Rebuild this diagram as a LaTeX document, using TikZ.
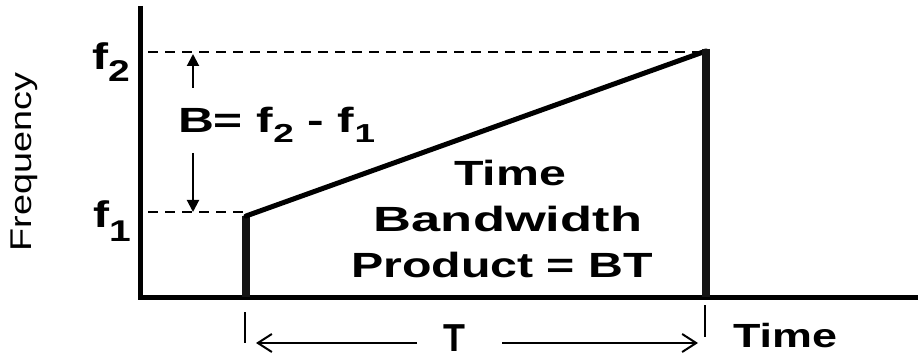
\documentclass[tikz,border=0pt]{standalone}
\usepackage{fontspec}
\setmainfont{Liberation Sans}
\usetikzlibrary{arrows.meta}
\newcommand{\sx}[2]{\scalebox{#1}[1]{#2}}
\newcommand{\fs}[1]{\fontsize{#1}{#1}\selectfont}
\begin{document}
\begin{tikzpicture}[x=1pt,y=-1pt,
  lbl/.style={inner sep=0pt,outer sep=0pt,font=\bfseries},
  axisline/.style={line width=5pt,line join=miter},
  edge/.style={line width=7.5pt,color=black!92},
  slope/.style={line width=5pt,line cap=round},
  dashline/.style={line width=2pt,dash pattern=on 10pt off 7pt},
  barrow/.style={line width=2pt,-{Triangle[length=12pt,width=12pt]}},
  tarrow/.style={line width=2pt,-{Straight Barb[length=14pt,width=18pt,line width=2pt]}},
  tick/.style={line width=2.5pt}]
\useasboundingbox (0,0) rectangle (918,358);
% axes
\coordinate (ytop) at (140,6);
\coordinate (orig) at (140,297);
\coordinate (xend) at (918,297);
\draw[axisline] (ytop) -- (orig) -- (xend);
% pulse
\coordinate (lb) at (246,297);
\coordinate (lt) at (246,216);
\coordinate (rt) at (706,51);
\coordinate (rb) at (706,297);
\draw[edge] (lb) -- (lt);
\draw[slope] (lt) -- (rt);
\draw[edge] (706,49) -- (rb);
% dashed levels
\coordinate (f2a) at (148,52);
\coordinate (f2b) at (700,52);
\coordinate (f1a) at (148,212);
\coordinate (f1b) at (243,212);
\draw[dashline] (f2a) -- (f2b);
\draw[dashline] (f1a) -- (f1b);
% bandwidth arrows
\coordinate (ua) at (193,88);
\coordinate (ub) at (193,54);
\coordinate (da) at (193,153);
\coordinate (db) at (193,212);
\draw[barrow] (ua) -- (ub);
\draw[barrow] (da) -- (db);
% ticks and T arrows
\coordinate (t1a) at (245,312);
\coordinate (t1b) at (245,343);
\coordinate (t2a) at (705,305);
\coordinate (t2b) at (705,337);
\draw[tick] (t1a) -- (t1b);
\draw[tick] (t2a) -- (t2b);
\coordinate (la) at (417,343);
\coordinate (lb2) at (256,343);
\coordinate (ra) at (502,343);
\coordinate (rb2) at (698,343);
\draw[tarrow] (la) -- (lb2);
\draw[tarrow] (ra) -- (rb2);
% labels
\node[lbl,anchor=base west] (f2) at (92,70) {\sx{1.3}{\fs{37}f\raisebox{-12pt}{\fs{30}2}}};
\node[lbl,anchor=base west] (f1) at (93,227) {\sx{1.3}{\fs{37}f\raisebox{-14pt}{\fs{30}1}}};
\node[lbl,anchor=base west] (beq) at (178,133) {\sx{1.42}{\fs{35}B= f\raisebox{-10pt}{\fs{26}2} - f\raisebox{-10pt}{\fs{26}1}}};
\node[inner sep=0pt,rotate=90] (freq) at (24,162) {\sx{1.26}{\fs{30}Frequency}};
\node[lbl,anchor=base] (tbp1) at (510,186) {\sx{1.38}{\fs{35}Time}};
\node[lbl,anchor=base] (tbp2) at (508,231) {\sx{1.5}{\fs{35}Bandwidth}};
\node[lbl,anchor=base] (tbp3) at (502,277) {\sx{1.38}{\fs{35}Product = BT}};
\node[lbl,anchor=base] (T) at (454,351) {\sx{0.92}{\fs{39}T}};
\node[lbl,anchor=base west] (time) at (733,347) {\sx{1.34}{\fs{33.5}Time}};
\end{tikzpicture}
\end{document}
